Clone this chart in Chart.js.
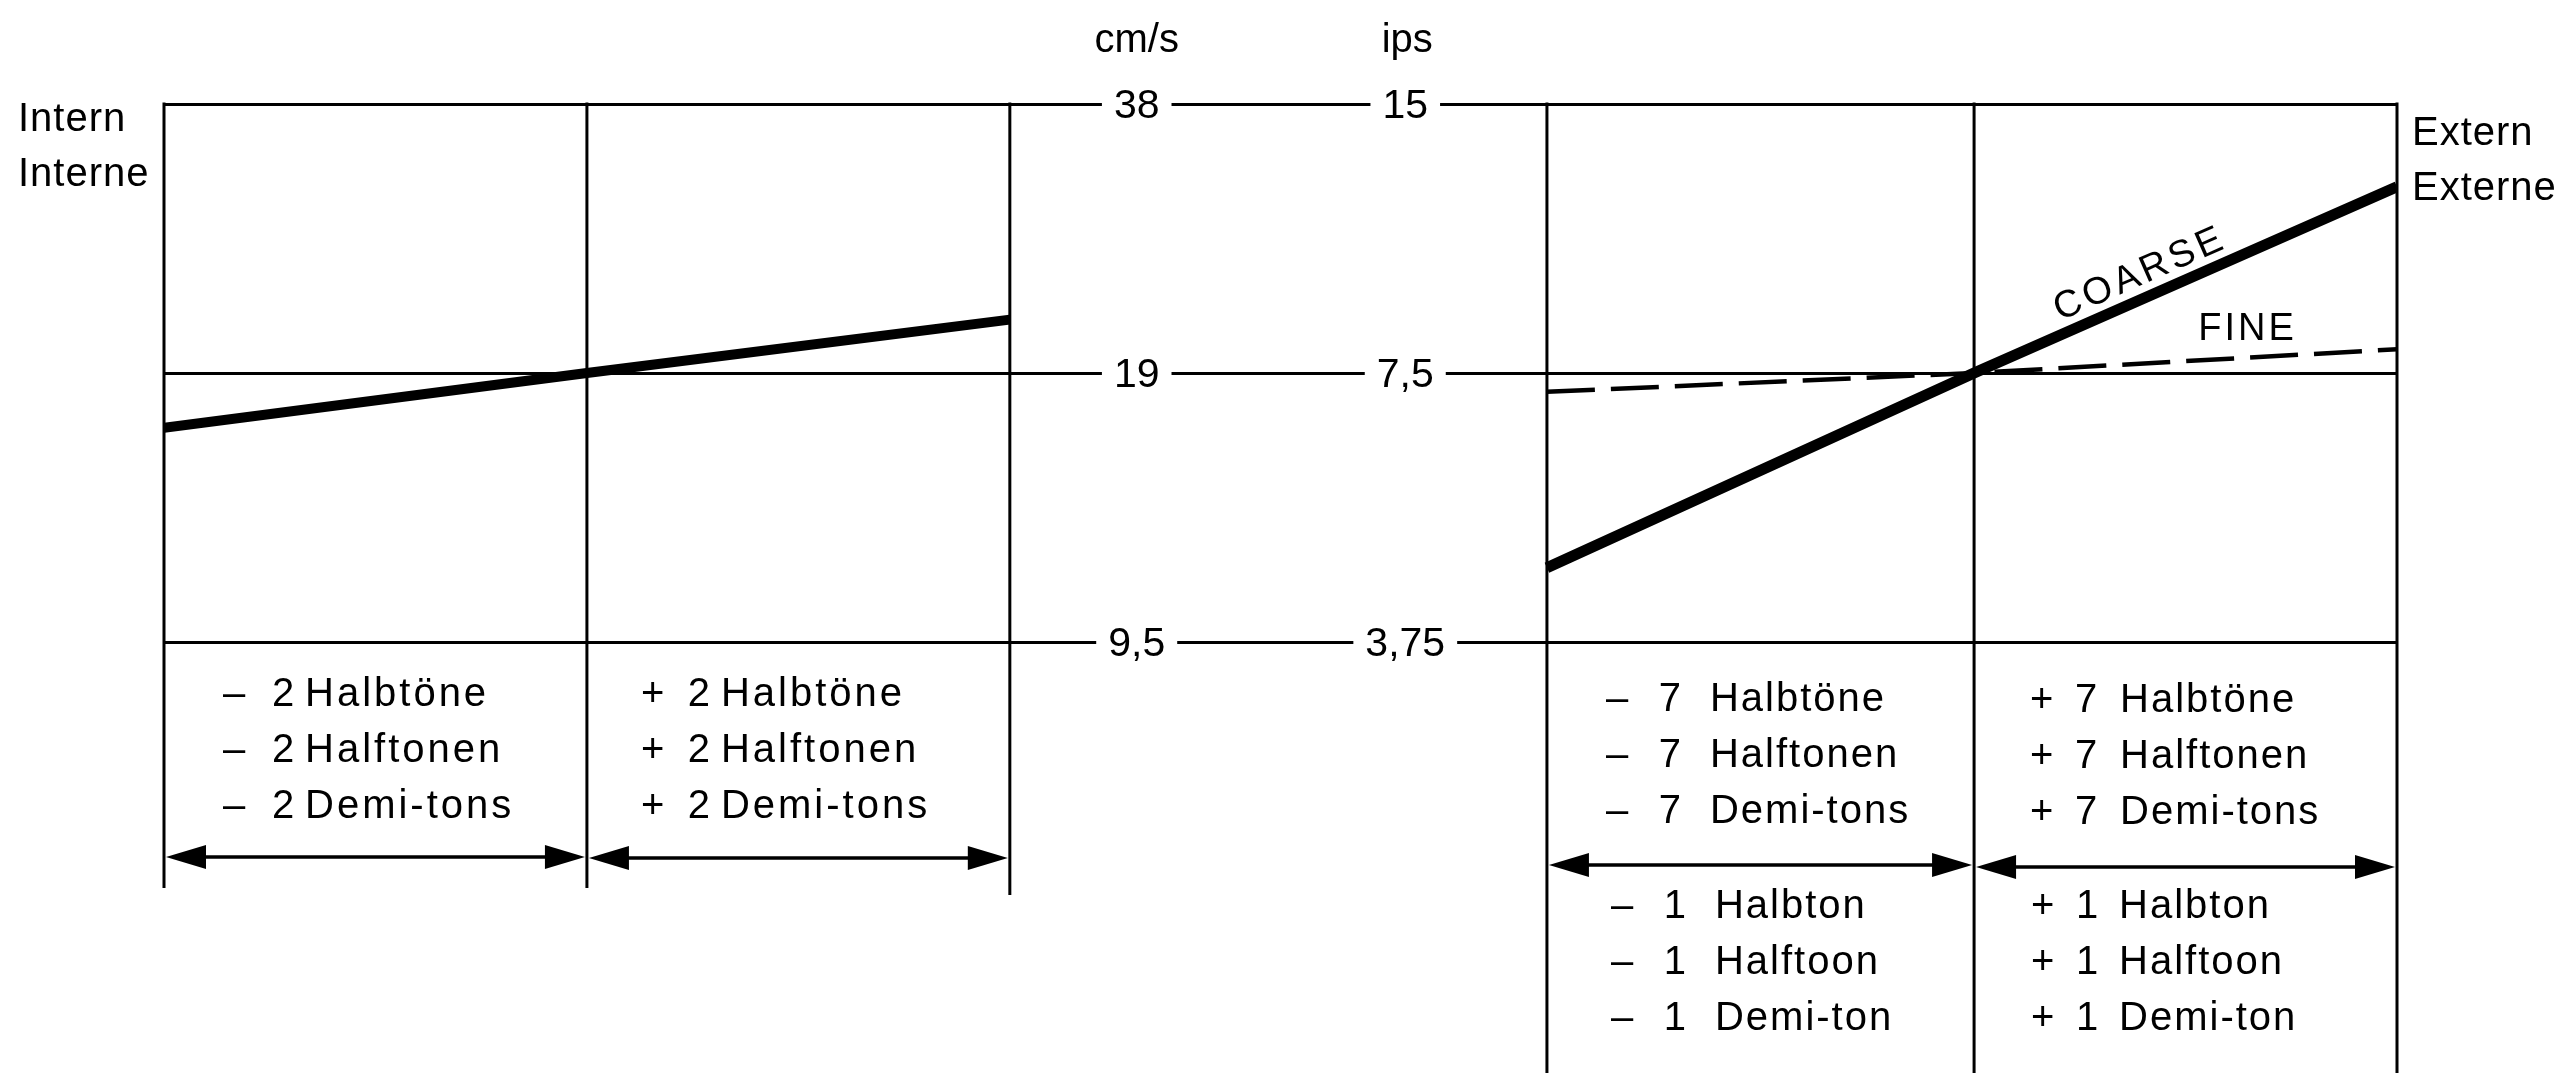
<!DOCTYPE html>
<html>
<head>
<meta charset="utf-8">
<script src="https://cdn.jsdelivr.net/npm/chart.js@4/dist/chart.umd.min.js"></script>
<style>
  html, body { margin: 0; padding: 0; background: #ffffff; }
  #wrap { width: 2574px; height: 1073px; position: relative; }
  canvas { display: block; }
</style>
</head>
<body>
<div id="wrap"><canvas id="c" width="2574" height="1073"></canvas></div>
<script>
// ---- data ----
const leftPanelX  = [0, 1, 2];          // -2 Halbtöne | 0 | +2 Halbtöne (internal)
const rightPanelX = [3.27, 4.28, 5.28]; // -7 Halbtöne | 0 | +7 Halbtöne (external)
const xMax = 5.28;

const internSpeed = [16.5, 19, 21.8];   // cm/s
const coarseSpeed = [11.5, 19, 30.7];   // cm/s
const fineSpeed   = [18.1, 19, 20.2];   // cm/s

const cmsTicks   = [9.5, 19, 38];
const cmsLabels  = ['9,5', '19', '38'];
const ipsLabels  = ['3,75', '7,5', '15'];

const leftNums        = ['2', '2', '2'];
const toneWordsPlural = ['Halbtöne', 'Halftonen', 'Demi-tons'];
const rightNumsBig    = ['7', '7', '7'];
const toneWordsSingle = ['Halbton', 'Halftoon', 'Demi-ton'];
const rightNumsSmall  = ['1', '1', '1'];

const FONT = '"Liberation Sans", Arial, Helvetica, sans-serif';

function pts(xs, ys) { return xs.map((x, i) => ({ x: x, y: ys[i] })); }

function doubleArrow(ctx, x1, x2, y) {
  const L = 40, H = 12;
  ctx.save();
  ctx.strokeStyle = '#000'; ctx.fillStyle = '#000'; ctx.lineWidth = 3.5;
  ctx.beginPath(); ctx.moveTo(x1 + L - 4, y); ctx.lineTo(x2 - L + 4, y); ctx.stroke();
  ctx.beginPath(); ctx.moveTo(x1, y); ctx.lineTo(x1 + L, y - H); ctx.lineTo(x1 + L, y + H); ctx.closePath(); ctx.fill();
  ctx.beginPath(); ctx.moveTo(x2, y); ctx.lineTo(x2 - L, y - H); ctx.lineTo(x2 - L, y + H); ctx.closePath(); ctx.fill();
  ctx.restore();
}

function toneBlock(ctx, x0, baseY, sign, nums, words, numDx, wordDx, spacing) {
  for (let i = 0; i < 3; i++) {
    const y = baseY + i * 56;
    ctx.letterSpacing = '0px';
    ctx.textAlign = 'left';
    ctx.fillText(sign, x0, y);
    ctx.textAlign = 'center';
    ctx.fillText(nums[i], x0 + numDx, y);
    ctx.textAlign = 'left';
    ctx.letterSpacing = spacing;
    ctx.fillText(words[i], x0 + wordDx, y);
  }
}

const decor = {
  id: 'decor',
  beforeDatasetsDraw(chart) {
    const { ctx, chartArea: ca, scales: { x } } = chart;
    ctx.save();
    ctx.strokeStyle = '#000';
    ctx.lineWidth = 3;
    leftPanelX.forEach((v, i) => {
      const px = x.getPixelForValue(v);
      ctx.beginPath(); ctx.moveTo(px, ca.top - 1.5); ctx.lineTo(px, ca.bottom + (i === 2 ? 253 : 246)); ctx.stroke();
    });
    rightPanelX.forEach(v => {
      const px = x.getPixelForValue(v);
      ctx.beginPath(); ctx.moveTo(px, ca.top - 1.5); ctx.lineTo(px, chart.height); ctx.stroke();
    });
    ctx.restore();
  },
  afterDatasetsDraw(chart) {
    const { ctx, chartArea: ca, scales: { x, y } } = chart;
    ctx.save();
    ctx.fillStyle = '#000';

    // speed labels in the gap (cm/s and ips)
    ctx.font = '41px ' + FONT;
    const cx1 = x.getPixelForValue(2.30), cx2 = x.getPixelForValue(2.935);
    cmsTicks.forEach((v, i) => {
      const py = y.getPixelForValue(v);
      [[cmsLabels[i], cx1], [ipsLabels[i], cx2]].forEach(([t, cx]) => {
        const w = ctx.measureText(t).width;
        ctx.fillStyle = '#fff';
        ctx.fillRect(cx - w / 2 - 12, py - 8, w + 24, 16);
        ctx.fillStyle = '#000';
        ctx.textAlign = 'center';
        ctx.fillText(t, cx, py + 14);
      });
    });
    ctx.font = '40px ' + FONT;
    ctx.textAlign = 'center';
    ctx.fillText('cm/s', cx1, ca.top - 52);
    ctx.fillText('ips', cx2 + 2, ca.top - 52);

    // side labels
    ctx.textAlign = 'left';
    ctx.letterSpacing = '1px';
    ctx.fillText('Intern', 18, ca.top + 27);
    ctx.fillText('Interne', 18, ca.top + 82);
    ctx.fillText('Extern', ca.right + 15, ca.top + 41);
    ctx.fillText('Externe', ca.right + 15, ca.top + 96);

    // COARSE / FINE
    ctx.font = '38px ' + FONT;
    const cm = chart.getDatasetMeta(1).data, fm = chart.getDatasetMeta(2).data;
    const a = Math.atan2(cm[2].y - cm[1].y, cm[2].x - cm[1].x);
    const t = 0.415;
    ctx.save();
    ctx.translate(cm[1].x + (cm[2].x - cm[1].x) * t, cm[1].y + (cm[2].y - cm[1].y) * t);
    ctx.rotate(a);
    ctx.textAlign = 'center';
    ctx.letterSpacing = '4px';
    ctx.fillText('COARSE', 0, -13);
    ctx.restore();
    const tf = 0.53;
    ctx.letterSpacing = '3px';
    ctx.textAlign = 'left';
    ctx.fillText('FINE', fm[1].x + (fm[2].x - fm[1].x) * tf, fm[1].y + (fm[2].y - fm[1].y) * tf - 20);

    // tone captions
    ctx.font = '40px ' + FONT;
    const lx0 = x.getPixelForValue(leftPanelX[0]), lx1 = x.getPixelForValue(leftPanelX[1]), lx2 = x.getPixelForValue(leftPanelX[2]);
    const rx0 = x.getPixelForValue(rightPanelX[0]), rx1 = x.getPixelForValue(rightPanelX[1]), rx2 = x.getPixelForValue(rightPanelX[2]);
    const b = ca.bottom;
    toneBlock(ctx, lx0 + 59, b + 64, '–', leftNums, toneWordsPlural, 60, 82, '3px');
    toneBlock(ctx, lx1 + 54, b + 64, '+', leftNums, toneWordsPlural, 58, 80, '3px');
    toneBlock(ctx, rx0 + 59, b + 69, '–', rightNumsBig, toneWordsPlural, 64, 104, '2px');
    toneBlock(ctx, rx1 + 56, b + 70, '+', rightNumsBig, toneWordsPlural, 56, 90, '2px');
    toneBlock(ctx, rx0 + 64, b + 276, '–', rightNumsSmall, toneWordsSingle, 64, 104, '2px');
    toneBlock(ctx, rx1 + 57, b + 276, '+', rightNumsSmall, toneWordsSingle, 56, 88, '2px');

    // range arrows
    doubleArrow(ctx, lx0 + 2, lx1 - 2, b + 215);
    doubleArrow(ctx, lx1 + 2, lx2 - 2, b + 216);
    doubleArrow(ctx, rx0 + 2, rx1 - 2, b + 223);
    doubleArrow(ctx, rx1 + 2, rx2 - 2, b + 225);
    ctx.restore();
  }
};

new Chart(document.getElementById('c'), {
  type: 'line',
  data: {
    datasets: [
      { label: 'Intern', data: pts(leftPanelX, internSpeed), borderColor: '#000', borderWidth: 10, pointRadius: 0, tension: 0, borderCapStyle: 'butt' },
      { label: 'COARSE', data: pts(rightPanelX, coarseSpeed), borderColor: '#000', borderWidth: 11, pointRadius: 0, tension: 0, borderCapStyle: 'butt' },
      { label: 'FINE', data: pts(rightPanelX, fineSpeed), borderColor: '#000', borderWidth: 4.5, borderDash: [48, 16], pointRadius: 0, tension: 0 }
    ]
  },
  options: {
    responsive: false,
    animation: false,
    events: [],
    layout: { padding: { left: 164, right: 2574 - 2397, top: 104, bottom: 1073 - 642 } },
    plugins: { legend: { display: false }, tooltip: { enabled: false } },
    scales: {
      x: { type: 'linear', min: 0, max: xMax, display: false },
      y: {
        type: 'logarithmic', min: 9.5, max: 38,
        afterBuildTicks: s => { s.ticks = cmsTicks.map(v => ({ value: v })); },
        afterFit: s => { s.width = 0; },
        ticks: { display: false },
        border: { display: false },
        grid: { color: '#000', lineWidth: 3, drawTicks: false }
      }
    }
  },
  plugins: [decor]
});
</script>
</body>
</html>
